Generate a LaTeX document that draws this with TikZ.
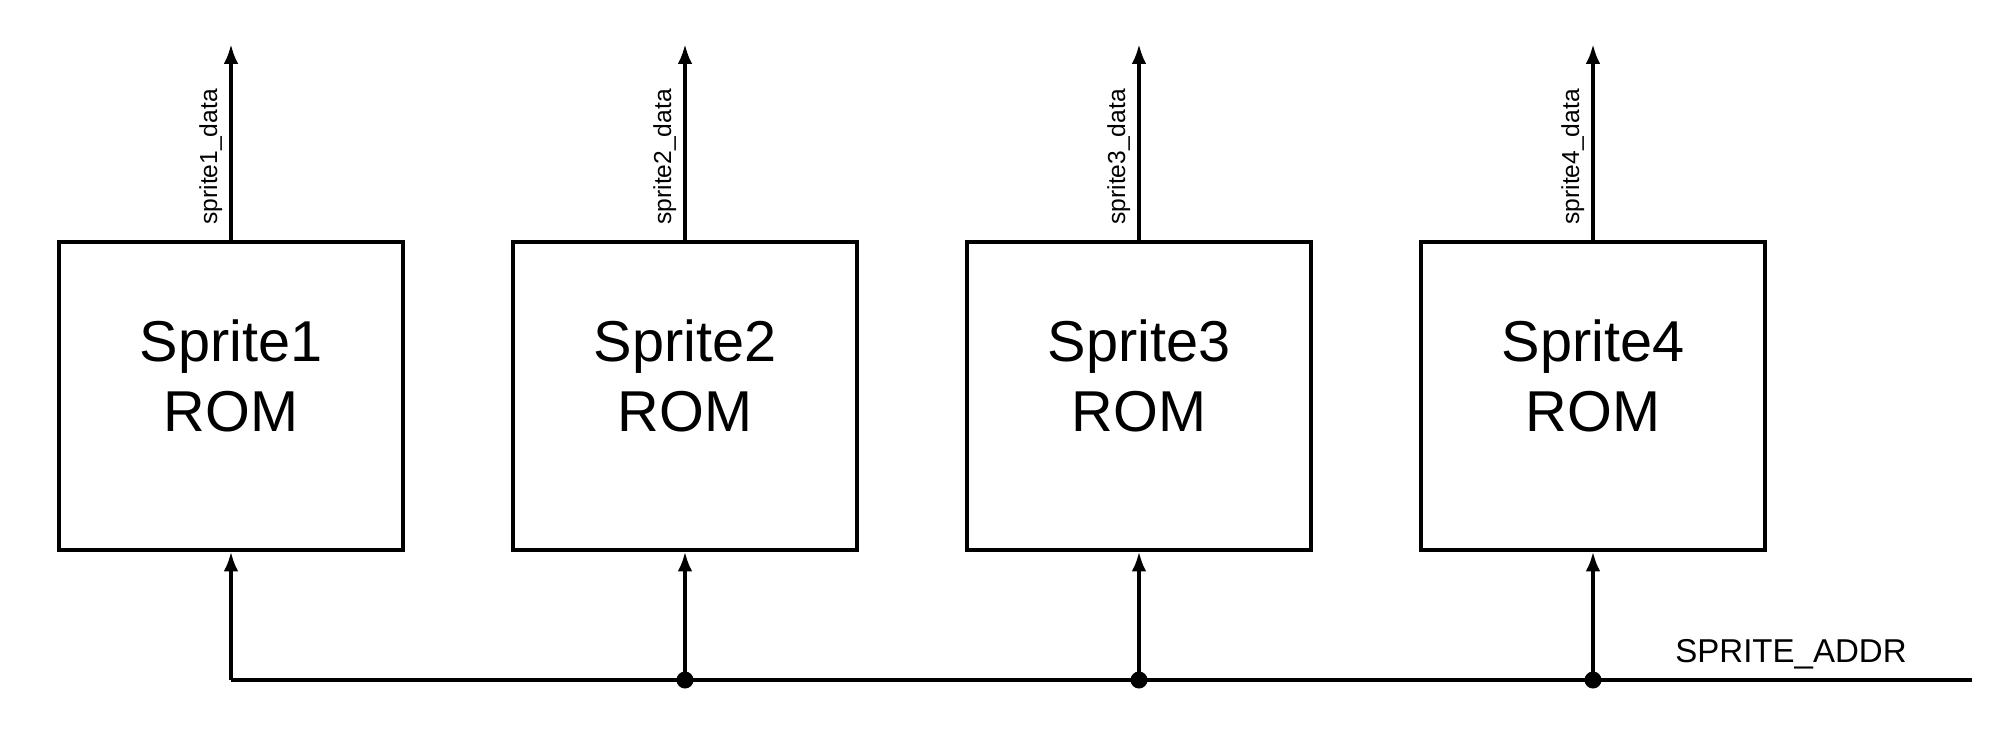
\documentclass[tikz,border=0pt]{standalone}
\usepackage{fontspec}
\setmainfont{Liberation Sans}
\usepackage{tikz}
\usetikzlibrary{arrows.meta}

\begin{document}
\begin{tikzpicture}
\tikzset{>={Latex[width=4.2pt,length=5.6pt]}}
\tikzstyle{rom} =[draw, line width=1pt, minimum width=3.44cm, minimum height=3.08cm]
\tikzstyle{romtext} =[align=center, font=\fontsize{16.4}{19.8}\selectfont]
\tikzstyle{wire} =[line width=1pt]
\tikzstyle{datalbl} =[rotate=90, anchor=south west, inner sep=2pt, font=\fontsize{7}{8}\selectfont]
\tikzstyle{junction} =[circle, fill = black, inner sep=0pt, minimum size=0.17cm]
\useasboundingbox (0,0) rectangle (20.15,7.35);

\node[rom](rom1) at (2.31,3.39){};
\node[rom](rom2) at (6.85,3.39){};
\node[rom](rom3) at (11.39,3.39){};
\node[rom](rom4) at (15.93,3.39){};
\node[romtext](t1) at ([yshift=0.2cm]rom1.center){Sprite1\\ROM};
\node[romtext](t2) at ([yshift=0.2cm]rom2.center){Sprite2\\ROM};
\node[romtext](t3) at ([yshift=0.2cm]rom3.center){Sprite3\\ROM};
\node[romtext](t4) at ([yshift=0.2cm]rom4.center){Sprite4\\ROM};

\coordinate (out1) at ([yshift=1.96cm]rom1.north);
\coordinate (out2) at ([yshift=1.96cm]rom2.north);
\coordinate (out3) at ([yshift=1.96cm]rom3.north);
\coordinate (out4) at ([yshift=1.96cm]rom4.north);

\draw [->,wire] (rom1.north) to node[datalbl,pos=0.035]{sprite1\_data} (out1);
\draw [->,wire] (rom2.north) to node[datalbl,pos=0.035]{sprite2\_data} (out2);
\draw [->,wire] (rom3.north) to node[datalbl,pos=0.035]{sprite3\_data} (out3);
\draw [->,wire] (rom4.north) to node[datalbl,pos=0.035]{sprite4\_data} (out4);

% address bus
\coordinate (busL) at (2.31,0.55);
\coordinate (busR) at (19.72,0.55);
\node[junction](j2) at (rom2.south |- busL){};
\node[junction](j3) at (rom3.south |- busL){};
\node[junction](j4) at (rom4.south |- busL){};
\node[font=\fontsize{9.4}{11}\selectfont](addr) at (17.91,0.81){SPRITE\_ADDR};

\draw [wire] (busL) to (busR);
\draw [->,wire] (busL) to (rom1.south);
\draw [->,wire] (j2.center) to (rom2.south);
\draw [->,wire] (j3.center) to (rom3.south);
\draw [->,wire] (j4.center) to (rom4.south);
\end{tikzpicture}
\end{document}
